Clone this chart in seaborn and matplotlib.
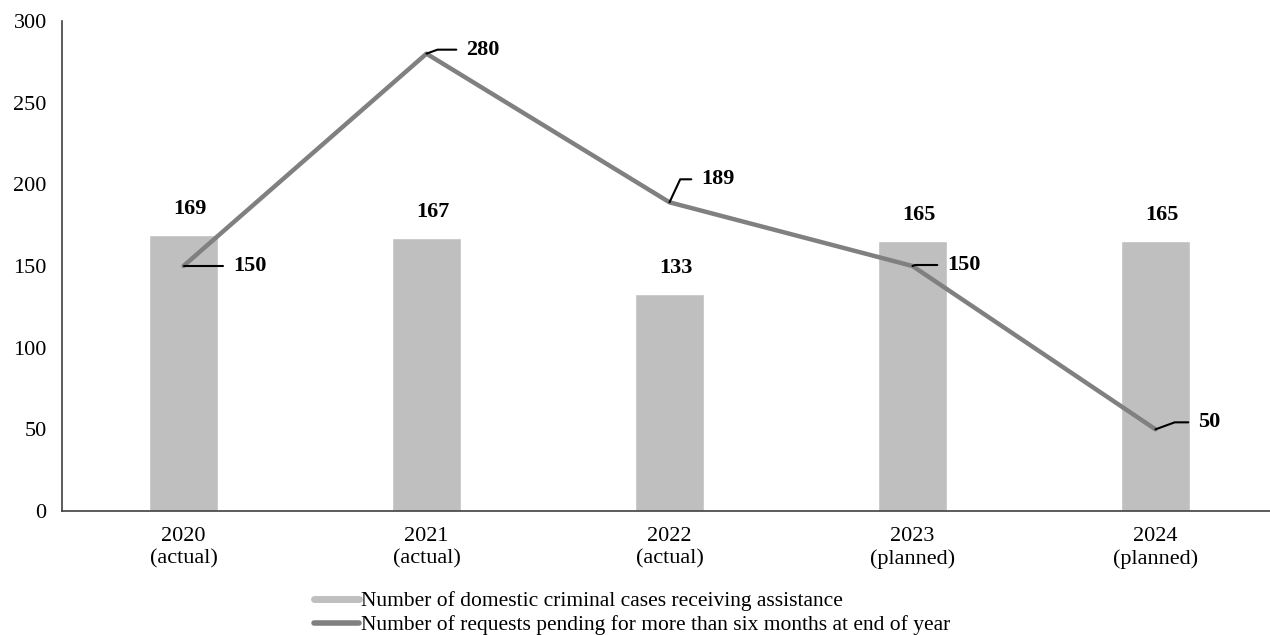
import numpy as np
import pandas as pd
import matplotlib
matplotlib.use("Agg")
import matplotlib.pyplot as plt
import seaborn as sns
from matplotlib.lines import Line2D

years = ["2020\n(actual)", "2021\n(actual)", "2022\n(actual)", "2023\n(planned)", "2024\n(planned)"]
cases = [169, 167, 133, 165, 165]
pending = [150, 280, 189, 150, 50]
bar_name = "Number of domestic criminal cases receiving assistance"
line_name = "Number of requests pending for more than six months at end of year"

# label offsets for the line values (pixels) and leader angle
line_lab_dx = [50, 40, 32, 35, 43]
line_lab_dy = [0, 4, 23, 1, 7]
line_lab_ang = [20, 20, 65, 20, 20]

sns.set_style("white")
plt.rcParams["font.family"] = ["Liberation Serif", "DejaVu Serif"]
plt.rcParams["text.color"] = "black"
plt.rcParams["xtick.color"] = "black"
plt.rcParams["ytick.color"] = "black"

df = pd.DataFrame({"year": years, "cases": cases, "pending": pending, "pos": np.arange(len(years))})

fig = plt.figure(figsize=(12.7, 6.35), dpi=100)
ax = fig.add_axes([62 / 1270, 124 / 635, 1215 / 1270, 490 / 635])

sns.barplot(data=df, x="year", y="cases", color="#bfbfbf", width=0.285,
            saturation=1, ax=ax)
sns.lineplot(data=df, x="pos", y="pending", color="#808080", lw=3.2, ax=ax)

for i, v in enumerate(cases):
    ax.annotate(str(v), xy=(i, v), xytext=(6, 26), textcoords="offset pixels",
                ha="center", va="center", fontsize=16, fontweight="bold")

for i, v in enumerate(pending):
    ax.annotate(str(v), xy=(i, v), xytext=(line_lab_dx[i], line_lab_dy[i]),
                textcoords="offset pixels", ha="left", va="center",
                fontsize=16, fontweight="bold",
                arrowprops=dict(arrowstyle="-", color="black", lw=1.5,
                                shrinkA=5, shrinkB=0,
                                connectionstyle=f"angle,angleA=0,angleB={line_lab_ang[i]},rad=0"))

ax.set_xlim(-0.5, 4.5)
ax.set_ylim(0, 300)
ax.set_yticks(np.arange(0, 301, 50))
ax.set_xticks(np.arange(-0.5, 5, 1))
ax.set_xticklabels([])
ax.set_xticks(np.arange(5), labels=years, minor=True)
ax.tick_params(axis="x", which="major", direction="out", length=5, width=1, color="#404040")
ax.tick_params(axis="x", which="minor", length=0, labelsize=16, pad=11.5)
ax.tick_params(axis="y", direction="out", length=5, width=1, color="#404040", labelsize=16, pad=6)
ax.set_xlabel("")
ax.set_ylabel("")
sns.despine(ax=ax)
for s in ["left", "bottom"]:
    ax.spines[s].set_color("#404040")
    ax.spines[s].set_linewidth(1.2)

handles = [Line2D([], [], color="#bfbfbf", lw=5), Line2D([], [], color="#808080", lw=4)]
fig.legend(handles, [bar_name, line_name], loc="upper left",
           bbox_to_anchor=(314 / 1270, 1 - 591 / 635), frameon=False,
           fontsize=15.5, handlelength=2.1, handletextpad=0.1, labelspacing=0.2,
           borderpad=0, borderaxespad=0)

fig.savefig("out.png", dpi=100)
